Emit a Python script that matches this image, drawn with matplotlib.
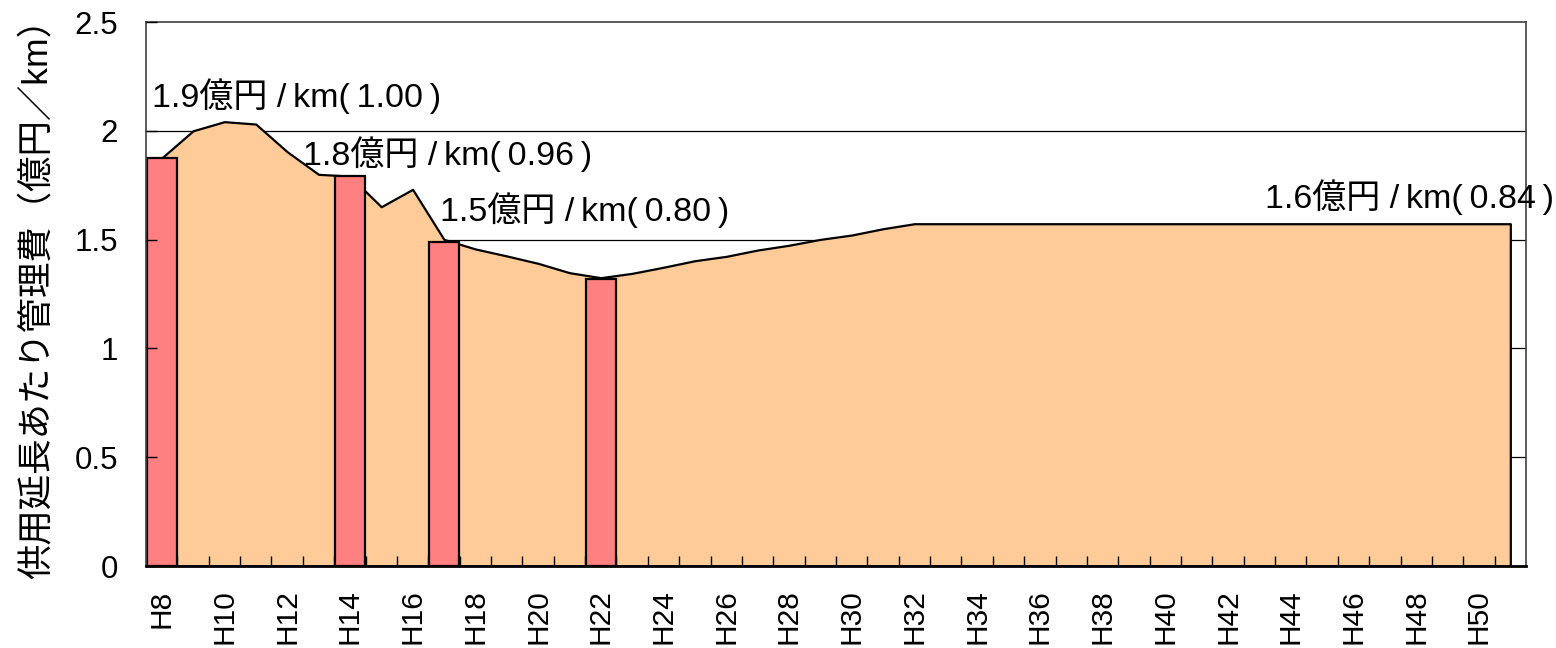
import matplotlib
matplotlib.use("Agg")
import matplotlib.pyplot as plt
from matplotlib import font_manager
import numpy as np

# ---- data ----
categories = [f"H{i}" for i in range(8, 52)]
line_values = [1.875, 2.00, 2.042, 2.031, 1.904, 1.80, 1.792, 1.651, 1.731, 1.501,
               1.457, 1.425, 1.391, 1.348, 1.325, 1.345, 1.373, 1.403, 1.423, 1.452,
               1.474, 1.501, 1.521, 1.550, 1.573] + [1.573] * 19
bar_categories = ["H8", "H14", "H17", "H22"]
bar_values = [1.875, 1.792, 1.49, 1.319]
T = "\u2009"
annotations = [f"1.9億円 /{T}km({T}1.00{T})", f"1.8億円 /{T}km({T}0.96{T})",
               f"1.5億円 /{T}km({T}0.80{T})", f"1.6億円 /{T}km({T}0.84{T})"]
annotation_pos = [(-0.31, 2.108), (4.506, 1.843), (8.875, 1.587), (35.18, 1.644)]
ylabel = "供用延長あたり管理費（億円／km）"
yticks = [0, 0.5, 1, 1.5, 2, 2.5]
ytick_labels = ["0", "0.5", "1", "1.5", "2", "2.5"]

# ---- fonts ----
names = {f.name for f in font_manager.fontManager.ttflist}
tick_font = "Liberation Sans Narrow" if "Liberation Sans Narrow" in names else "Liberation Sans"
tick_size = 24 if tick_font == "Liberation Sans Narrow" else 22.5
cjk = ["Liberation Sans", "Noto Sans CJK JP"]

fig = plt.figure(figsize=(15.56, 6.48), dpi=100)
ax = fig.add_axes([146 / 1556, 1 - 566 / 648, (1526 - 146) / 1556, (566 - 22) / 648])

x = np.arange(len(categories))
ax.set_xlim(-0.5, len(categories) - 0.5)
ax.set_ylim(0, 2.5)

# gridlines behind the area
for yv in yticks[1:-1]:
    ax.axhline(yv, color="black", lw=0.9, zorder=0.5)

ax.fill_between(x, line_values, 0, facecolor="#FFCC99", edgecolor="black", lw=1.6, zorder=1)

bx = [categories.index(c) for c in bar_categories]
ax.bar(bx, bar_values, width=0.96, color="#FF8080", edgecolor="black", lw=1.6, zorder=2)

for txt, (tx, ty) in zip(annotations, annotation_pos):
    ax.text(tx, ty, txt, family=cjk, fontsize=24.5, ha="left", va="baseline",
            clip_on=False, zorder=4)

ax.set_axisbelow(False)
ax.set_yticks(yticks)
ax.set_yticklabels(ytick_labels, family=tick_font, fontsize=tick_size)
ax.tick_params(axis="y", direction="in", length=8, width=1, pad=20, left=True, right=False)

ax.set_xticks(x[::2])
ax.set_xticklabels(categories[::2], rotation=90, family=tick_font, fontsize=tick_size - 1,
                   va="top", ha="center")
ax.tick_params(axis="x", which="major", length=0, pad=17)
ax.set_xticks(x[:-1] + 0.5, minor=True)
ax.tick_params(axis="x", which="minor", direction="in", length=7, width=1, color="black")

for s in ["top", "right", "left"]:
    ax.spines[s].set_color("#404040")
    ax.spines[s].set_linewidth(1.2)
ax.spines["bottom"].set_color("black")
ax.spines["bottom"].set_linewidth(2)

fig.text(37 / 1556, 1 - 290 / 648, ylabel, rotation=90, ha="center", va="center",
         family=cjk, fontsize=25.5)

fig.savefig("out.png", dpi=100)
